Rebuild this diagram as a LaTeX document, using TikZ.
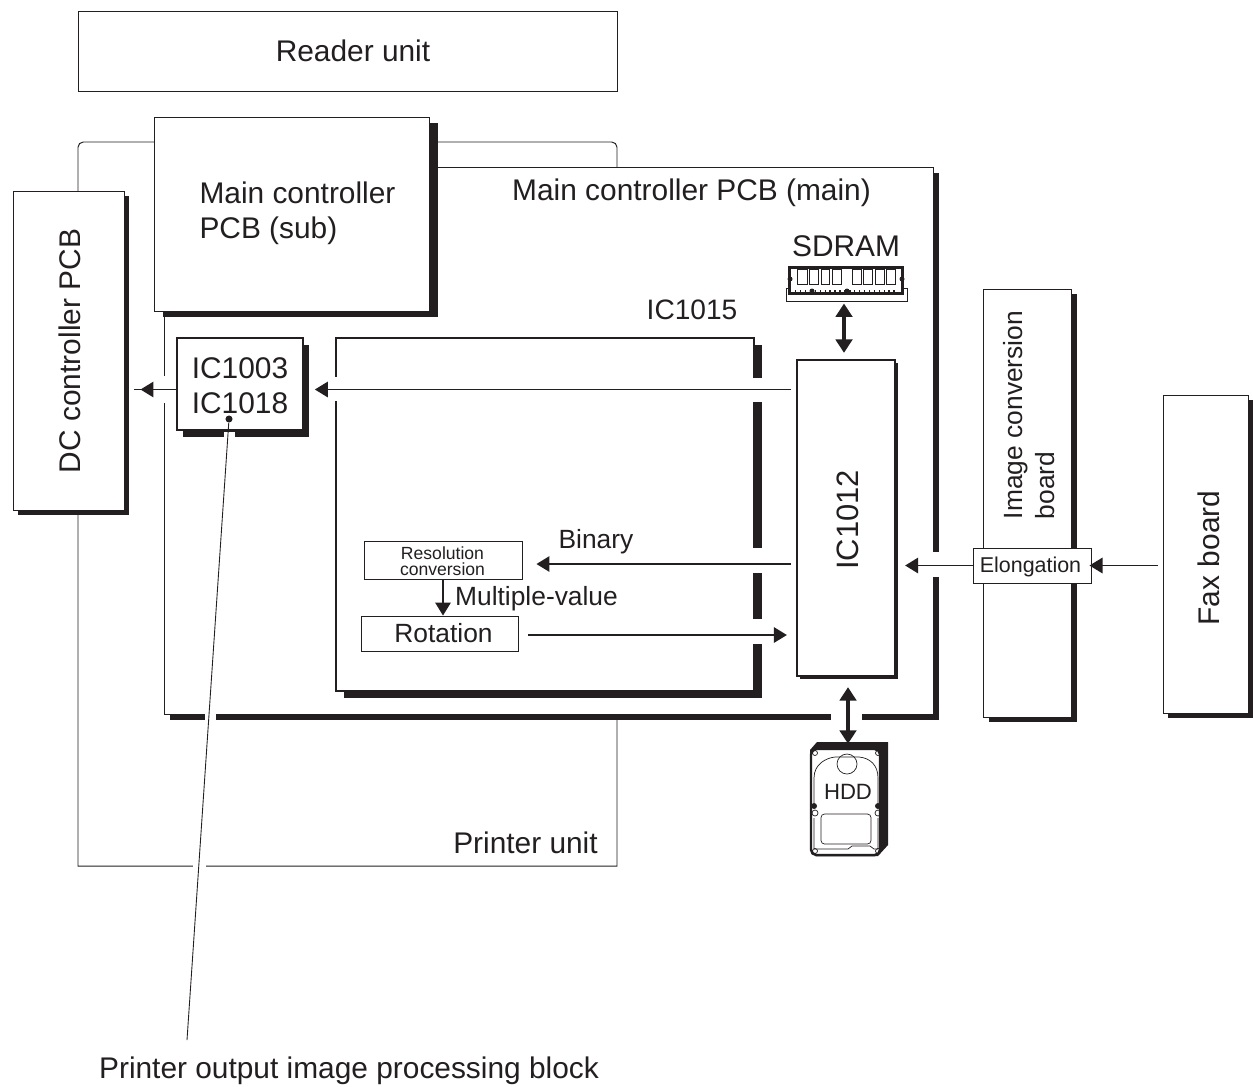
\documentclass[tikz,border=0pt]{standalone}
\usepackage{fontspec}
\setmainfont{Liberation Sans}
\usetikzlibrary{arrows.meta,shadows}
\definecolor{ink}{HTML}{231F20}

\begin{document}
\begin{tikzpicture}[x=0.02cm, y=-0.02cm, every node/.style={text=ink, inner sep=0pt},
  wh/.style 2 args={minimum width=#1*0.02cm, minimum height=#2*0.02cm},
  cast/.style 2 args={general shadow={fill=ink, shadow xshift=#1*0.02cm, shadow yshift=-#2*0.02cm}},
  pcb/.style={draw=ink, fill=white, line width=0.55pt},
  chip/.style={draw=ink, fill=white, line width=1pt},
  big/.style={font=\fontsize{17}{20}\selectfont},
  mid/.style={font=\fontsize{15}{18}\selectfont},
  sig/.style={draw=ink, line width=0.9pt, -{Triangle[length=2.6mm,width=3.1mm]}},
  wire/.style={draw=ink, line width=0.9pt},
  bus/.style={draw=ink, line width=2.8pt, {Triangle[length=2.7mm,width=3.3mm]}-{Triangle[length=2.7mm,width=3.3mm]}},
  gap/.style={fill=white}]
\useasboundingbox (0,0) rectangle (1253,1086);
\coordinate (rowA) at (0,389.5); \coordinate (rowB) at (0,564); \coordinate (rowC) at (0,635);
\coordinate (ramX) at (844,0); \coordinate (hddX) at (848,0); \coordinate (lead) at (187,1040);
% units
\node[pcb, wh={539}{80}] (reader) at (347.5,51) {};
\node[big] (readertxt) at (353,51) {Reader unit};
\draw[draw=ink, line width=0.55pt] (78,866) [rounded corners=3pt] -- (78,142) -- (617,142) [sharp corners] -- (617,866) -- cycle;
\node[big] (printer) at (525.5,843) {Printer unit};
\node[pcb, wh={111}{319}, cast={5}{5}] (dc) at (68.5,350.5) {};
\node[big, rotate=90] (dctxt) at (70,351) {DC controller PCB};
\node[pcb, wh={769}{547}, cast={6}{6}] (main) at (548.5,440.5) {};
\node[big] (maintxt) at (691.5,193) {Main controller PCB (main)};
\node[pcb, wh={275}{194}, cast={9}{6}] (sub) at (291.5,214) {};
\node[big, align=left] (subtxt) at (297.5,213) {Main controller\\PCB (sub)};
\node[pcb, wh={88}{428}, cast={6}{5}] (conv) at (1027,503) {};
\node[rotate=90, align=left, font=\fontsize{15}{18.5}\selectfont] (convtxt) at (1029,415) {Image conversion\\board};
\node[pcb, wh={85}{318}, cast={5}{5}] (fax) at (1205.5,554) {};
\node[big, rotate=90] (faxtxt) at (1209,558) {Fax board};
% chips
\node[chip, wh={126}{92}, cast={6}{7}] (ic1003) at (240,384) {};
\node[big, align=center] (ic1003txt) at (240,386) {IC1003\\IC1018};
\node[chip, wh={418}{353}, cast={8}{7}] (ic1015) at (545,514.5) {};
\node[font=\fontsize{16}{19}\selectfont] (ic1015txt) at (692,310) {IC1015};
\node[chip, line width=1.3pt, wh={98}{316}, cast={3}{3}] (ic1012) at (846,518) {};
\node[font=\fontsize{17.6}{20}\selectfont, rotate=90] (ic1012txt) at (848,520) {IC1012};
\node[pcb, wh={158}{38}] (rescon) at (443,560) {};
\node[align=center, font=\fontsize{10}{9}\selectfont] (restxt) at (442.5,561) {Resolution\\conversion};
\node[pcb, wh={157}{35}] (rot) at (439.5,633.5) {};
\node[mid] (rottxt) at (443.5,633) {Rotation};
\node[pcb, wh={118}{35}] (elong) at (1032,565.5) {};
\node[font=\fontsize{12.2}{14}\selectfont] (elongtxt) at (1030.5,566.5) {Elongation};
\node[mid] (bintxt) at (596,542) {Binary};
\node[mid] (multitxt) at (536.5,599) {Multiple-value};
% breaks in the outlines where lines pass
\fill[gap] (162,376) rectangle (168,403); \fill[gap] (333,377) rectangle (339,401);
\fill[gap] (750,378) rectangle (765,402); \fill[gap] (750,548) rectangle (765,573); \fill[gap] (750,619) rectangle (765,644);
\fill[gap] (925,552) rectangle (945,577); \fill[gap] (831,711) rectangle (862,722);
\fill[gap] (205,711) rectangle (216,722); \fill[gap] (224,431.5) rectangle (235,438); \fill[gap] (193,864) rectangle (206,868);
% sdram
\node[big] (ramtxt) at (846,246) {SDRAM};
\node[pcb, wh={121}{13}] (tray) at (846.5,294.5) {};
\node[draw=ink, fill=white, line width=1.5pt, wh={113}{26}] (ram) at (846,280.5) {};
\draw[draw=ink, line width=0.5pt] (797,269) rectangle +(10,15) (809,269) rectangle +(9,15) (821,269) rectangle +(8,15) (832,269) rectangle +(9,15) (852,269) rectangle +(9,15) (863,269) rectangle +(9,15) (875,269) rectangle +(9,15) (886,269) rectangle +(9,15);
\draw[draw=ink, line width=0.8pt, dotted] (795,291) -- (897,291);
\fill[ink] (812,291) circle (2.5) (847,291) circle (2.5) (790,279) circle (2.5) (902,279) circle (2.5);
% hdd
\fill[ink] (810,750) -- (817,742) -- (888,742) -- (888,845) -- (878,856) -- (815,856) -- cycle;
\node[draw=ink, fill=white, line width=1.4pt, rounded corners=3pt, wh={69}{106}] (hdd) at (845.5,802) {};
\draw[draw=ink, line width=0.4pt] (814,803) -- (814,778) .. controls (814,764) and (826,758) .. (835,757) -- (859,757) .. controls (870,758) and (878,765) .. (878,778) -- (878,803);
\draw[draw=ink, line width=0.4pt] (814,818) -- (814,849) -- (848,849) -- (852,846) -- (870,846) -- (874,849) -- (878,849) -- (878,818);
\draw[draw=ink, line width=0.4pt, rounded corners=2pt] (821,814) rectangle (871,844);
\draw[draw=ink, line width=0.4pt] (847,764) circle (10) (815,753) circle (2.5) (878,753) circle (2.5) (815,851) circle (2.5) (878,851) circle (2.5) (815,813) circle (3) (878,813) circle (3);
\fill[ink] (814,806) circle (3) (878,806) circle (3);
\node[font=\fontsize{12.6}{15}\selectfont] (hddtxt) at (848,792) {HDD};
% connectors
\draw[wire, shorten >=0.2cm] (ic1003.west |- rowA) -- (dc.east |- rowA);
\draw[sig, shorten >=0.32cm] (ic1003.west |- rowA) -- (dc.east |- rowA);
\draw[sig, shorten <=0.1cm, shorten >=0.22cm] (ic1012.west |- rowA) -- (ic1003.east |- rowA);
\draw[sig, shorten <=0.1cm, shorten >=0.28cm] (ic1012.west |- rowB) -- (rescon.east |- rowB);
\draw[sig, shorten <=0.2cm, shorten >=0.18cm] (rot.east |- rowC) -- (ic1012.west |- rowC);
\draw[sig] (rescon.south) -- (rescon.south |- rot.north);
\draw[sig, shorten >=0.18cm] (elong.west) -- (ic1012.east |- elong);
\draw[sig, shorten <=0.1cm, shorten >=-0.04cm] (fax.west |- elong) -- (elong.east);
\draw[bus, shorten <=0.04cm, shorten >=0.12cm] (tray.south -| ramX) -- (ic1012.north -| ramX);
\draw[bus, shorten <=0.2cm, shorten >=0.08cm] (ic1012.south -| hddX) -- (hdd.north -| hddX);
% callout
\node[circle, fill=ink, minimum size=4pt] (dot) at (229,419) {};
\draw[draw=ink, line width=0.5pt] (dot) -- (lead);
\node[big] (outtxt) at (349,1071) {Printer output image processing block};
\end{tikzpicture}
\end{document}
